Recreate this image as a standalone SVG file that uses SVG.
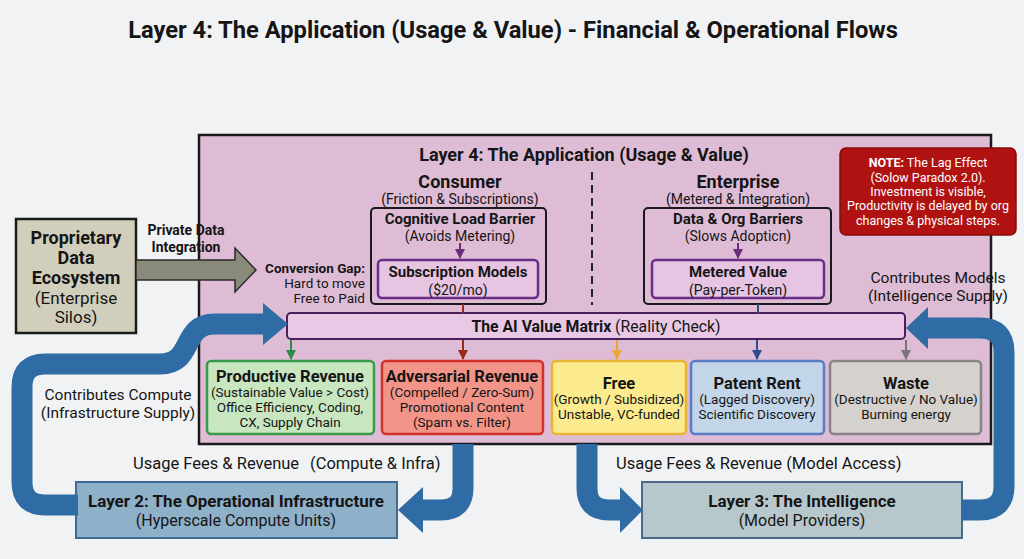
<svg xmlns="http://www.w3.org/2000/svg" width="1024" height="559" viewBox="0 0 1024 559">
<defs>
<style>
text{font-family:Roboto,"Liberation Sans",sans-serif;fill:#151515}
.b{font-weight:bold}
.c{text-anchor:middle}
.r{text-anchor:end}
.blue{fill:none;stroke:#2f6ca6;stroke-width:21}
.bh{fill:#2f6ca6}
.cat{stroke-width:2.5}
.note{fill:#fff;font-size:12.5px}
</style>
<marker id="mp" viewBox="0 0 10 10" refX="9" refY="5" markerWidth="5" markerHeight="5" orient="auto"><path d="M0 0L10 5L0 10Z" fill="#6b2d7e"/></marker>
<marker id="mg" viewBox="0 0 10 10" refX="9" refY="5" markerWidth="5" markerHeight="5" orient="auto"><path d="M0 0L10 5L0 10Z" fill="#2e8a48"/></marker>
<marker id="mr" viewBox="0 0 10 10" refX="9" refY="5" markerWidth="5" markerHeight="5" orient="auto"><path d="M0 0L10 5L0 10Z" fill="#9a2a20"/></marker>
<marker id="my" viewBox="0 0 10 10" refX="9" refY="5" markerWidth="5" markerHeight="5" orient="auto"><path d="M0 0L10 5L0 10Z" fill="#e8a830"/></marker>
<marker id="mb" viewBox="0 0 10 10" refX="9" refY="5" markerWidth="5" markerHeight="5" orient="auto"><path d="M0 0L10 5L0 10Z" fill="#2c4e8a"/></marker>
<marker id="mk" viewBox="0 0 10 10" refX="9" refY="5" markerWidth="5" markerHeight="5" orient="auto"><path d="M0 0L10 5L0 10Z" fill="#777"/></marker>
</defs>
<rect width="1024" height="559" fill="#f1f2f4"/>
<text class="b c" x="513" y="38" font-size="23.7">Layer 4: The Application (Usage &amp; Value) - Financial &amp; Operational Flows</text>

<g id="layer4">
<rect x="199" y="135" width="792" height="309" fill="#dfbcd6" stroke="#1a1a1a" stroke-width="2.5"/>
<text class="b c" x="584" y="161" font-size="18">Layer 4: The Application (Usage &amp; Value)</text>
<line x1="592" y1="172" x2="592" y2="305" stroke="#222" stroke-width="2" stroke-dasharray="8 5"/>
</g>

<g id="consumer">
<text class="b c" x="460" y="188" font-size="18">Consumer</text>
<text class="c" x="460" y="204" font-size="14">(Friction &amp; Subscriptions)</text>
<rect x="371" y="208" width="175" height="96" rx="4" fill="none" stroke="#1a1a1a" stroke-width="2"/>
<text class="b c" x="460" y="224" font-size="15">Cognitive Load Barrier</text>
<text class="c" x="460" y="241" font-size="14">(Avoids Metering)</text>
</g>
<g id="subscription">
<rect x="378" y="260" width="160" height="38" rx="4" fill="#e6c4e2" stroke="#6b2d8a" stroke-width="2.5"/>
<text class="b c" x="458" y="277" font-size="15">Subscription Models</text>
<text class="c" x="458" y="295" font-size="14">($20/mo)</text>
</g>
<g id="conversion">
<text class="b r" x="365" y="273" font-size="13.5">Conversion Gap:</text>
<text class="r" x="365" y="288" font-size="13.5">Hard to move</text>
<text class="r" x="365" y="303" font-size="13.5">Free to Paid</text>
</g>

<g id="enterprise">
<text class="b c" x="738" y="188" font-size="18">Enterprise</text>
<text class="c" x="738" y="204" font-size="14">(Metered &amp; Integration)</text>
<rect x="644" y="208" width="187" height="96" rx="4" fill="none" stroke="#1a1a1a" stroke-width="2"/>
<text class="b c" x="738" y="224" font-size="15">Data &amp; Org Barriers</text>
<text class="c" x="738" y="241" font-size="14">(Slows Adopticn)</text>
</g>
<g id="metered">
<rect x="652" y="260" width="172" height="38" rx="4" fill="#e6c4e2" stroke="#6b2d8a" stroke-width="2.5"/>
<text class="b c" x="738" y="277" font-size="15">Metered Value</text>
<text class="c" x="738" y="295" font-size="14">(Pay-per-Token)</text>
</g>

<g id="note">
<rect x="840" y="148" width="176" height="87" rx="6" fill="#b01212" stroke="#8a0a0a" stroke-width="1.5"/>
<text class="note c" x="928" y="167"><tspan font-weight="bold" fill="#fff">NOTE:</tspan> The Lag Effect</text>
<text class="note c" x="928" y="182">(Solow Paradox 2.0).</text>
<text class="note c" x="928" y="196">Investment is visible,</text>
<text class="note c" x="928" y="210">Productivity is delayed by org</text>
<text class="note c" x="928" y="225">changes &amp; physical steps.</text>
</g>

<g id="matrix">
<rect x="287" y="313" width="618" height="26" rx="4" fill="#e8c8e4" stroke="#4a1e5a" stroke-width="2"/>
<text class="c" x="596" y="332" font-size="15.8"><tspan font-weight="bold">The AI Value Matrix</tspan> (Reality Check)</text>
</g>

<g id="productive">
<rect class="cat" x="207" y="361" width="167" height="73" rx="4" fill="#c8e6bf" stroke="#3a9a4c"/>
<text class="b c" x="290" y="382" font-size="16.5">Productive Revenue</text>
<text class="c" x="290" y="397" font-size="13.5">(Sustainable Value &gt; Cost)</text>
<text class="c" x="290" y="412" font-size="13.5">Office Efficiency, Coding,</text>
<text class="c" x="290" y="427" font-size="13.5">CX, Supply Chain</text>
</g>
<g id="adversarial">
<rect class="cat" x="382" y="361" width="161" height="73" rx="4" fill="#f29488" stroke="#d3302a"/>
<text class="b c" x="462" y="382" font-size="16.5">Adversarial Revenue</text>
<text class="c" x="462" y="397" font-size="13.5">(Compelled / Zero-Sum)</text>
<text class="c" x="462" y="412" font-size="13.5">Promotional Content</text>
<text class="c" x="462" y="427" font-size="13.5">(Spam vs. Filter)</text>
</g>
<g id="free">
<rect class="cat" x="552" y="361" width="134" height="73" rx="4" fill="#fbea8e" stroke="#eab334"/>
<text class="b c" x="619" y="389" font-size="16.5">Free</text>
<text class="c" x="619" y="404" font-size="13.5">(Growth / Subsidized)</text>
<text class="c" x="619" y="419" font-size="13.5">Unstable, VC-funded</text>
</g>
<g id="patent">
<rect class="cat" x="691" y="361" width="133" height="73" rx="4" fill="#c2d5e9" stroke="#5a7cc2"/>
<text class="b c" x="757" y="389" font-size="16.5">Patent Rent</text>
<text class="c" x="757" y="404" font-size="13.5">(Lagged Discovery)</text>
<text class="c" x="757" y="419" font-size="13.5">Scientific Discovery</text>
</g>
<g id="waste">
<rect class="cat" x="830" y="361" width="151" height="73" rx="4" fill="#d5d1cd" stroke="#858585"/>
<text class="b c" x="906" y="389" font-size="16.5">Waste</text>
<text class="c" x="906" y="404" font-size="13.5">(Destructive / No Value)</text>
<text class="c" x="906" y="419" font-size="13.5">Burning energy</text>
</g>

<g id="proprietary">
<rect x="16" y="219" width="120" height="114" fill="#d1cfbc" stroke="#1a1a1a" stroke-width="2.5"/>
<text class="b c" x="76" y="244" font-size="18">Proprietary</text>
<text class="b c" x="76" y="264" font-size="18">Data</text>
<text class="b c" x="76" y="284" font-size="18">Ecosystem</text>
<text class="c" x="76" y="304" font-size="17">(Enterprise</text>
<text class="c" x="76" y="323" font-size="17">Silos)</text>
</g>

<g id="layer2">
<rect x="76" y="482" width="321" height="56" fill="#8fb0c9" stroke="#3f6a92" stroke-width="2"/>
<text class="b c" x="236" y="507" font-size="17">Layer 2: The Operational Infrastructure</text>
<text class="c" x="236" y="526" font-size="16">(Hyperscale Compute Units)</text>
</g>
<g id="layer3">
<rect x="642" y="482" width="320" height="56" fill="#b7c8cd" stroke="#4a6a8a" stroke-width="2"/>
<text class="b c" x="802" y="507" font-size="17">Layer 3: The Intelligence</text>
<text class="c" x="802" y="526" font-size="16">(Model Providers)</text>
</g>

<g id="connectors">
<polygon points="136,260 235,260 235,248 256,270 235,292 235,280 136,280" fill="#8a8a7b" stroke="#2a2a2a" stroke-width="1.5"/>
<line x1="460" y1="243" x2="460" y2="258" stroke="#6b2d7e" stroke-width="2" marker-end="url(#mp)"/>
<line x1="738" y1="243" x2="738" y2="258" stroke="#6b2d7e" stroke-width="2" marker-end="url(#mp)"/>
<line x1="463" y1="304" x2="463" y2="313" stroke="#9a2a20" stroke-width="2"/>
<line x1="758" y1="304" x2="758" y2="313" stroke="#2c4e8a" stroke-width="2"/>
<line x1="291" y1="340" x2="291" y2="359" stroke="#2e8a48" stroke-width="2" marker-end="url(#mg)"/>
<line x1="463" y1="340" x2="463" y2="359" stroke="#9a2a20" stroke-width="2" marker-end="url(#mr)"/>
<line x1="617" y1="340" x2="617" y2="359" stroke="#e8a830" stroke-width="2" marker-end="url(#my)"/>
<line x1="757" y1="340" x2="757" y2="359" stroke="#2c4e8a" stroke-width="2" marker-end="url(#mb)"/>
<line x1="906" y1="340" x2="906" y2="359" stroke="#777" stroke-width="2" marker-end="url(#mk)"/>
<path class="blue" d="M78 505 L45 505 Q22 505 22 482 L22 387 Q22 364 45 364 L160 364 C195 364 180 324 215 324 L266 324"/>
<polygon class="bh" points="263,303 288,324 263,345"/>
<path class="blue" d="M463 444 L463 488 Q463 510 441 510 L423 510"/>
<polygon class="bh" points="423,487 398,510 423,533"/>
<path class="blue" d="M587 444 L587 488 Q587 510 609 510 L621 510"/>
<polygon class="bh" points="620,487 643,510 620,533"/>
<path class="blue" d="M962 510 L980 510 Q1004 510 1004 486 L1004 352 Q1004 328 980 328 L926 328"/>
<polygon class="bh" points="928,307 906,328 928,349"/>
</g>

<g id="labels">
<text class="b c" x="186" y="235" font-size="14">Private Data</text>
<text class="b c" x="186" y="252" font-size="14">Integration</text>
<text class="c" x="938" y="283" font-size="15.5">Contributes Models</text>
<text class="c" x="938" y="301" font-size="15.5">(Intelligence Supply)</text>
<text class="c" x="118" y="400" font-size="15.5">Contributes Compute</text>
<text class="c" x="118" y="418" font-size="15.5">(Infrastructure Supply)</text>
<text x="133" y="469" font-size="16.5">Usage Fees &amp; Revenue<tspan x="310">(Compute &amp; Infra)</tspan></text>
<text x="616" y="469" font-size="16.5">Usage Fees &amp; Revenue (Model Access)</text>
</g>
</svg>
